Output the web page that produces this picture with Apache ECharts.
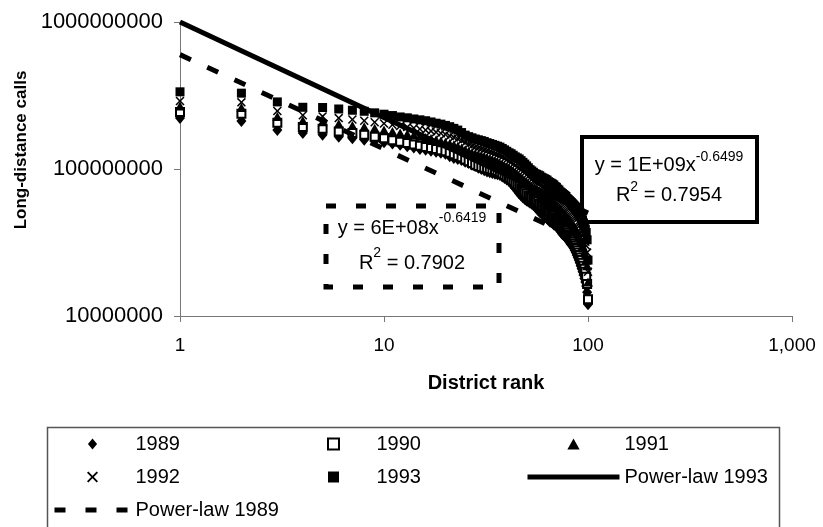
<!DOCTYPE html>
<html>
<head>
<meta charset="utf-8">
<script src="https://cdn.jsdelivr.net/npm/echarts@6/dist/echarts.min.js"></script>
<style>
html,body{margin:0;padding:0;background:#fff;}
#chart{width:823px;height:527px;}
</style>
</head>
<body>
<div id="chart"></div>
<script>
// District rank 1..100
const ranks = [];
for (let i = 1; i <= 100; i++) ranks.push(i);

// Long-distance calls, millions, by district rank
const calls1989 = [222,212,184,176,171,166,162,158,155,152,
149,146,143,140,137,135,133,131,129,127,
122,119,117,115,112,110,107,105,102,100,
98,96,95,94,93,92,91,89,87,85,
83,80,77,74,71,68,66,64,62.5,61,
60,59,58,57,55.5,54,52.5,51,50,49,
48,47,46,45,44,43.5,43,42,41.5,41,
40,39,38,37,36,35.5,35,34,33.5,33,
32,31,30.5,30,29,28,27,26,25,24,
23,22,21,20,19,18,17,16,14.5,12];
const calls1990 = [244,238,206,193,188,180,176,171,166,162,
157,153,150,147,144,141,139,137,134,132,
129,126,123,120,116,113,110,107,105,103,
102,101,100,99,98,97,95,93,91,89,
87,85,83,80,78,76,74,72,70,68,
66,65,64,63,62,61,60,58,57,56,
55,54,53,52,51,50,49,48,47,46,
45,44,43,42,41,40,39.5,39,38,37,
36,35,34,33,32,31,30,29,28,27,
26,25,24,23,22,21,20,18.5,16.5,13];
const calls1991 = [268,262,228,214,210,203,198,194,189,184,
180,176,173,170,167,164,161,158,155,152,
149,146,143,139,135,132,129,127,125,123,
121,119,117,115,113,111,109,107,105,103,
101,99,97,94,91,89,87,85,83,81,
79,77,75,73,72,71,70,68,67,66,
65,64,63,62,61,60,59,58,57,56,
55,54,53,52,51,50,49,48,47,46,
45,44,43,42,41,40,39,38,37,35,
34,33,32,30,29,27,26,24,22,17];
const calls1992 = [290,284,248,232,228,222,217,213,208,204,
200,196,193,190,187,184,181,178,175,172,
168,164,160,156,151,147,144,141,139,137,
135,133,131,129,127,125,123,121,118,116,
113,111,108,106,103,101,99,96,94,91,
89,87,85,83,82,81,80,79,77,76,
75,74,73,72,71,70,69,68,66,65,
64,63,62,61,60,59,58,57,56,55,
54,53,52,51,50,49,48,47,46,44,
43,42,40,38,36,34,32,30,27,20];
const calls1993 = [335,328,286,263,262,256,251,247,241,236,
231,226,223,219,216,213,209,205,202,198,
194,189,184,177,170,166,163,160,158,156,
154,151,149,147,145,143,141,138,135,132,
129,127,124,121,119,117,114,111,108,105,
102,99,97,95,93,92,91,90,88,87,
86,85,84,82,81,80,79,78,76,75,
73,72,70,69,68,67,66,65,63,62,
61,60,59,58,57,56,55,54,53,52,
51,49,47,45,43,41,39,37,33,24];

// Power-law trend line end points [rank, calls]
const trend1993 = [[1, 1000000000], [100, 50100000]];
const trend1989 = [[1, 600000000], [100, 31200000]];

const xTickLabels = ['1', '10', '100', '1,000'];
const yTickLabels = ['10000000', '100000000', '1000000000'];

const FONT = '"Liberation Sans", Arial, sans-serif';

function pts(arr) { return arr.map((v, i) => [ranks[i], v * 1e6]); }

const SYM = {
  diamond: 'path://M5,0L10,6L5,12L0,6Z',
  square: 'path://M0,0L10,0L10,10L0,10Z',
  triangle: 'path://M5,0L10,9L0,9Z',
  cross: 'path://M0,1.2L1.2,0L5,3.8L8.8,0L10,1.2L6.2,5L10,8.8L8.8,10L5,6.2L1.2,10L0,8.8L3.8,5Z'
};

const chart = echarts.init(document.getElementById('chart'), null, {renderer: 'canvas'});

const legendBase = {
  orient: 'vertical',
  top: 433,
  itemHeight: 11,
  itemGap: 11,
  padding: 0,
  selectedMode: false,
  textStyle: {fontFamily: FONT, fontSize: 20, color: '#000', lineHeight: 22}
};
const hiddenDot = {color: 'rgba(0,0,0,0)', borderColor: 'rgba(0,0,0,0)', borderWidth: 0};

chart.setOption({
  animation: false,
  backgroundColor: '#fff',
  grid: {left: 180, top: 22, right: 31, bottom: 211, containLabel: false},
  xAxis: {
    type: 'log', logBase: 10, min: 1, max: 1000,
    name: 'District rank', nameLocation: 'middle', nameGap: 57,
    nameTextStyle: {fontFamily: FONT, fontSize: 20, fontWeight: 'bold', color: '#000'},
    axisLine: {lineStyle: {color: '#777', width: 1}},
    axisTick: {show: true, length: 6, lineStyle: {color: '#777'}},
    minorTick: {show: false},
    splitLine: {show: false},
    axisLabel: {margin: 20, fontFamily: FONT, fontSize: 19, color: '#000',
      formatter: (v, i) => xTickLabels[i]}
  },
  yAxis: {
    type: 'log', logBase: 10, min: 10000000, max: 1000000000,
    name: 'Long-distance calls', nameLocation: 'middle', nameGap: 137,
    nameTextStyle: {fontFamily: FONT, fontSize: 17, fontWeight: 'bold', color: '#000',
      padding: [0, 0, 0, 38]},
    axisLine: {show: true, lineStyle: {color: '#777', width: 1}},
    axisTick: {show: true, length: 6, lineStyle: {color: '#777'}},
    splitLine: {show: false},
    axisLabel: {margin: 17, fontFamily: FONT, fontSize: 22, color: '#000',
      formatter: (v, i) => yTickLabels[i]}
  },
  legend: [
    Object.assign({}, legendBase, {left: 52, itemWidth: 76,
      data: ['1989', '1992', {name: 'Power-law 1989', itemStyle: hiddenDot,
        lineStyle: {width: 5, type: [11, 20], color: '#000'}}]}),
    Object.assign({}, legendBase, {left: 327, itemWidth: 76, data: ['1990', '1993']}),
    Object.assign({}, legendBase, {left: 525, itemWidth: 92,
      data: ['1991', {name: 'Power-law 1993', itemStyle: hiddenDot,
        lineStyle: {width: 5, type: 'solid', color: '#000'}}]})
  ],
  graphic: [
    {type: 'rect', silent: true, z: 0, shape: {x: 47.5, y: 427.5, width: 732, height: 110},
      style: {fill: 'none', stroke: '#555', lineWidth: 1.5}},
    {type: 'rect', silent: true, z: 5, shape: {x: 582, y: 137, width: 175, height: 85},
      style: {fill: 'none', stroke: '#000', lineWidth: 4}},
    {type: 'text', silent: true, z: 6, x: 669, y: 180,
      style: {
        text: '{a|y = 1E+09x}{s|-0.6499}\n{a|R}{s|2}{a| = 0.7954}',
        align: 'center', verticalAlign: 'middle', fill: '#000',
        rich: {
          a: {fontFamily: FONT, fontSize: 20, lineHeight: 30, fill: '#000'},
          s: {fontFamily: FONT, fontSize: 14, lineHeight: 14, verticalAlign: 'top', fill: '#000'}
        }
      }},
    {type: 'rect', silent: true, z: 5, shape: {x: 326, y: 206, width: 173, height: 81},
      style: {fill: 'none', stroke: '#000', lineWidth: 5, lineDash: [10, 20]}},
    {type: 'text', silent: true, z: 6, x: 412, y: 246,
      style: {
        text: '{a|y = 6E+08x}{s|-0.6419}\n{a|R}{s|2}{a| = 0.7902}',
        align: 'center', verticalAlign: 'middle', fill: '#000',
        rich: {
          a: {fontFamily: FONT, fontSize: 20, lineHeight: 35, fill: '#000'},
          s: {fontFamily: FONT, fontSize: 14, lineHeight: 14, verticalAlign: 'top', fill: '#000'}
        }
      }}
  ],
  series: [
    {name: '1989', type: 'scatter', data: pts(calls1989), symbol: SYM.diamond, symbolSize: [10, 12],
      itemStyle: {color: '#000', opacity: 1}, z: 2},
    {name: '1990', type: 'scatter', data: pts(calls1990), symbol: SYM.square, symbolSize: 8,
      itemStyle: {color: '#fff', borderColor: '#000', borderWidth: 2, opacity: 1}, z: 2},
    {name: '1991', type: 'scatter', data: pts(calls1991), symbol: SYM.triangle, symbolSize: [10, 9],
      itemStyle: {color: '#000', opacity: 1}, z: 2},
    {name: '1992', type: 'scatter', data: pts(calls1992), symbol: SYM.cross, symbolSize: 9,
      itemStyle: {color: '#000', opacity: 1}, z: 2},
    {name: '1993', type: 'scatter', data: pts(calls1993), symbol: SYM.square, symbolSize: 9,
      itemStyle: {color: '#000', opacity: 1}, z: 2},
    {name: 'Power-law 1993', type: 'line', data: trend1993, symbol: 'none', showSymbol: false,
      lineStyle: {color: '#000', width: 5, type: 'solid'}, itemStyle: {color: '#000'}, z: 3},
    {name: 'Power-law 1989', type: 'line', data: trend1989, symbol: 'none', showSymbol: false,
      lineStyle: {color: '#000', width: 5, type: [12, 18]}, itemStyle: {color: '#000'}, z: 3}
  ]
});
</script>
</body>
</html>
